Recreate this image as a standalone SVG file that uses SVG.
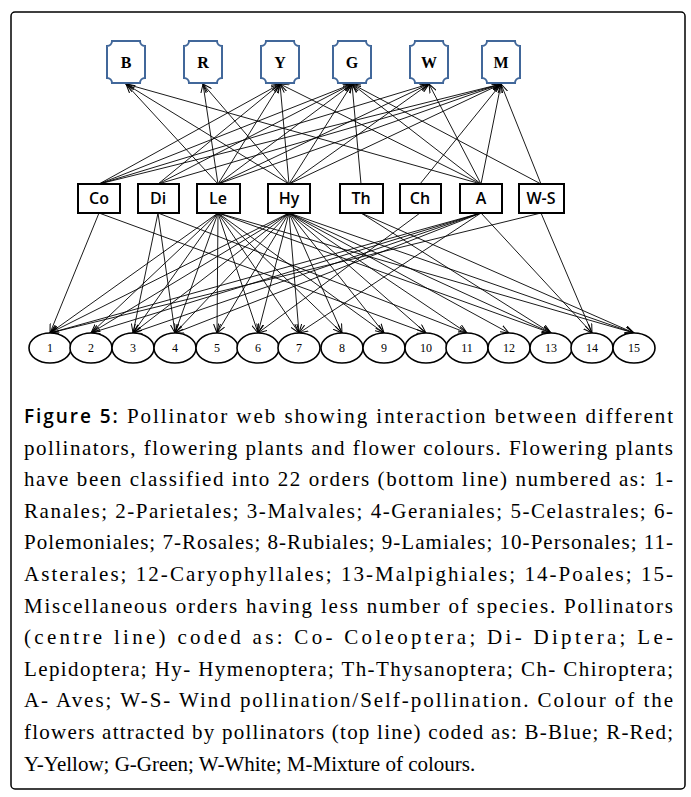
<svg xmlns="http://www.w3.org/2000/svg" width="691" height="797" viewBox="0 0 691 797">
<style>
.col{fill:#fff;stroke:#41679a;stroke-width:2}
.colt{font-family:"Liberation Serif",serif;font-weight:bold;font-size:16px;text-anchor:middle}
.pol{fill:#fff;stroke:#000;stroke-width:2}
.polt{font-family:"Open Sans",sans-serif;font-weight:600;font-size:16px;text-anchor:middle}
.pl{fill:#fff;stroke:#000;stroke-width:1.6}
.plt{font-family:"Liberation Serif",serif;font-size:12px;text-anchor:middle}
.e line{stroke:#000;stroke-width:0.9;marker-end:url(#ah)}
.cap text{font-family:"Liberation Serif",serif;font-size:21px}
</style>
<defs>
<marker id="ah" markerWidth="10" markerHeight="8" refX="9" refY="4" orient="auto" markerUnits="userSpaceOnUse">
<path d="M0,0.5 L9,4 L0,7.5" fill="none" stroke="#000" stroke-width="1"/>
</marker>
</defs>
<rect x="11" y="12" width="674" height="777" rx="4" fill="#fff" stroke="#000" stroke-width="1.5"/>
<g id="connectors" class="e">
<line x1="99" y1="184" x2="280" y2="84"/><line x1="99" y1="184" x2="352" y2="84"/><line x1="99" y1="184" x2="429" y2="84"/><line x1="99" y1="184" x2="501" y2="84"/>
<line x1="158" y1="184" x2="280" y2="84"/><line x1="158" y1="184" x2="352" y2="84"/><line x1="158" y1="184" x2="501" y2="84"/>
<line x1="218" y1="184" x2="126" y2="84"/><line x1="218" y1="184" x2="203" y2="84"/><line x1="218" y1="184" x2="280" y2="84"/><line x1="218" y1="184" x2="352" y2="84"/><line x1="218" y1="184" x2="429" y2="84"/><line x1="218" y1="184" x2="501" y2="84"/>
<line x1="289" y1="184" x2="126" y2="84"/><line x1="289" y1="184" x2="203" y2="84"/><line x1="289" y1="184" x2="280" y2="84"/><line x1="289" y1="184" x2="352" y2="84"/><line x1="289" y1="184" x2="429" y2="84"/><line x1="289" y1="184" x2="501" y2="84"/>
<line x1="361" y1="184" x2="352" y2="84"/>
<line x1="420" y1="184" x2="501" y2="84"/>
<line x1="481" y1="184" x2="126" y2="84"/><line x1="481" y1="184" x2="280" y2="84"/><line x1="481" y1="184" x2="352" y2="84"/><line x1="481" y1="184" x2="429" y2="84"/><line x1="481" y1="184" x2="501" y2="84"/>
<line x1="541" y1="184" x2="352" y2="84"/><line x1="541" y1="184" x2="501" y2="84"/>
<line x1="99" y1="213" x2="50" y2="333"/><line x1="99" y1="213" x2="426" y2="333"/>
<line x1="158" y1="213" x2="133" y2="333"/><line x1="158" y1="213" x2="175" y2="333"/><line x1="158" y1="213" x2="467" y2="333"/>
<line x1="218" y1="213" x2="50" y2="333"/><line x1="218" y1="213" x2="91" y2="333"/><line x1="218" y1="213" x2="133" y2="333"/><line x1="218" y1="213" x2="175" y2="333"/><line x1="218" y1="213" x2="217" y2="333"/><line x1="218" y1="213" x2="258" y2="333"/><line x1="218" y1="213" x2="299" y2="333"/><line x1="218" y1="213" x2="342" y2="333"/><line x1="218" y1="213" x2="384" y2="333"/><line x1="218" y1="213" x2="551" y2="333"/><line x1="218" y1="213" x2="634" y2="333"/>
<line x1="289" y1="213" x2="50" y2="333"/><line x1="289" y1="213" x2="91" y2="333"/><line x1="289" y1="213" x2="133" y2="333"/><line x1="289" y1="213" x2="175" y2="333"/><line x1="289" y1="213" x2="217" y2="333"/><line x1="289" y1="213" x2="258" y2="333"/><line x1="289" y1="213" x2="299" y2="333"/><line x1="289" y1="213" x2="342" y2="333"/><line x1="289" y1="213" x2="384" y2="333"/><line x1="289" y1="213" x2="426" y2="333"/><line x1="289" y1="213" x2="467" y2="333"/><line x1="289" y1="213" x2="509" y2="333"/><line x1="289" y1="213" x2="551" y2="333"/><line x1="289" y1="213" x2="634" y2="333"/>
<line x1="361" y1="213" x2="551" y2="333"/><line x1="361" y1="213" x2="634" y2="333"/>
<line x1="420" y1="213" x2="258" y2="333"/>
<line x1="481" y1="213" x2="50" y2="333"/><line x1="481" y1="213" x2="91" y2="333"/><line x1="481" y1="213" x2="133" y2="333"/><line x1="481" y1="213" x2="175" y2="333"/><line x1="481" y1="213" x2="299" y2="333"/><line x1="481" y1="213" x2="592" y2="333"/>
<line x1="541" y1="213" x2="50" y2="333"/><line x1="541" y1="213" x2="592" y2="333"/>
</g>
<g id="B"><path class="col" d="M112,41 H140 A5,5 0 0 0 145,46 V78 A5,5 0 0 0 140,83 H112 A5,5 0 0 0 107,78 V46 A5,5 0 0 0 112,41 Z"/><text class="colt" x="126" y="68">B</text></g>
<g id="R"><path class="col" d="M189,41 H217 A5,5 0 0 0 222,46 V78 A5,5 0 0 0 217,83 H189 A5,5 0 0 0 184,78 V46 A5,5 0 0 0 189,41 Z"/><text class="colt" x="203" y="68">R</text></g>
<g id="Y"><path class="col" d="M266,41 H294 A5,5 0 0 0 299,46 V78 A5,5 0 0 0 294,83 H266 A5,5 0 0 0 261,78 V46 A5,5 0 0 0 266,41 Z"/><text class="colt" x="280" y="68">Y</text></g>
<g id="G"><path class="col" d="M338,41 H366 A5,5 0 0 0 371,46 V78 A5,5 0 0 0 366,83 H338 A5,5 0 0 0 333,78 V46 A5,5 0 0 0 338,41 Z"/><text class="colt" x="352" y="68">G</text></g>
<g id="W"><path class="col" d="M415,41 H443 A5,5 0 0 0 448,46 V78 A5,5 0 0 0 443,83 H415 A5,5 0 0 0 410,78 V46 A5,5 0 0 0 415,41 Z"/><text class="colt" x="429" y="68">W</text></g>
<g id="M"><path class="col" d="M487,41 H515 A5,5 0 0 0 520,46 V78 A5,5 0 0 0 515,83 H487 A5,5 0 0 0 482,78 V46 A5,5 0 0 0 487,41 Z"/><text class="colt" x="501" y="68">M</text></g>
<g id="Co"><rect class="pol" x="78" y="184" width="42" height="29"/><text class="polt" x="99" y="204">Co</text></g>
<g id="Di"><rect class="pol" x="138" y="184" width="41" height="29"/><text class="polt" x="158" y="204">Di</text></g>
<g id="Le"><rect class="pol" x="197" y="184" width="43" height="29"/><text class="polt" x="218" y="204">Le</text></g>
<g id="Hy"><rect class="pol" x="268" y="184" width="42" height="29"/><text class="polt" x="289" y="204">Hy</text></g>
<g id="Th"><rect class="pol" x="340" y="184" width="43" height="29"/><text class="polt" x="361" y="204">Th</text></g>
<g id="Ch"><rect class="pol" x="400" y="184" width="41" height="29"/><text class="polt" x="420" y="204">Ch</text></g>
<g id="A"><rect class="pol" x="460" y="184" width="42" height="29"/><text class="polt" x="481" y="204">A</text></g>
<g id="W-S"><rect class="pol" x="519" y="184" width="45" height="29"/><text class="polt" x="541" y="204">W-S</text></g>
<g id="p1"><ellipse class="pl" cx="50" cy="348" rx="21" ry="15"/><text class="plt" x="50" y="352">1</text></g>
<g id="p2"><ellipse class="pl" cx="91" cy="348" rx="21" ry="15"/><text class="plt" x="91" y="352">2</text></g>
<g id="p3"><ellipse class="pl" cx="133" cy="348" rx="21" ry="15"/><text class="plt" x="133" y="352">3</text></g>
<g id="p4"><ellipse class="pl" cx="175" cy="348" rx="21" ry="15"/><text class="plt" x="175" y="352">4</text></g>
<g id="p5"><ellipse class="pl" cx="217" cy="348" rx="21" ry="15"/><text class="plt" x="217" y="352">5</text></g>
<g id="p6"><ellipse class="pl" cx="258" cy="348" rx="21" ry="15"/><text class="plt" x="258" y="352">6</text></g>
<g id="p7"><ellipse class="pl" cx="299" cy="348" rx="21" ry="15"/><text class="plt" x="299" y="352">7</text></g>
<g id="p8"><ellipse class="pl" cx="342" cy="348" rx="21" ry="15"/><text class="plt" x="342" y="352">8</text></g>
<g id="p9"><ellipse class="pl" cx="384" cy="348" rx="21" ry="15"/><text class="plt" x="384" y="352">9</text></g>
<g id="p10"><ellipse class="pl" cx="426" cy="348" rx="21" ry="15"/><text class="plt" x="426" y="352">10</text></g>
<g id="p11"><ellipse class="pl" cx="467" cy="348" rx="21" ry="15"/><text class="plt" x="467" y="352">11</text></g>
<g id="p12"><ellipse class="pl" cx="509" cy="348" rx="21" ry="15"/><text class="plt" x="509" y="352">12</text></g>
<g id="p13"><ellipse class="pl" cx="551" cy="348" rx="21" ry="15"/><text class="plt" x="551" y="352">13</text></g>
<g id="p14"><ellipse class="pl" cx="592" cy="348" rx="21" ry="15"/><text class="plt" x="592" y="352">14</text></g>
<g id="p15"><ellipse class="pl" cx="634" cy="348" rx="21" ry="15"/><text class="plt" x="634" y="352">15</text></g>
<g id="caption" class="cap">
<text x="24" y="423" textLength="649" lengthAdjust="spacing"><tspan font-family="Open Sans, sans-serif" font-weight="600" font-size="19">Figure 5:</tspan> Pollinator web showing interaction between different</text>
<text x="24" y="455" textLength="649" lengthAdjust="spacing">pollinators, flowering plants and flower colours. Flowering plants</text>
<text x="24" y="486" textLength="649" lengthAdjust="spacing">have been classified into 22 orders (bottom line) numbered as: 1-</text>
<text x="24" y="518" textLength="649" lengthAdjust="spacing">Ranales; 2-Parietales; 3-Malvales; 4-Geraniales; 5-Celastrales; 6-</text>
<text x="24" y="549" textLength="649" lengthAdjust="spacing">Polemoniales; 7-Rosales; 8-Rubiales; 9-Lamiales; 10-Personales; 11-</text>
<text x="24" y="581" textLength="649" lengthAdjust="spacing">Asterales; 12-Caryophyllales; 13-Malpighiales; 14-Poales; 15-</text>
<text x="24" y="613" textLength="649" lengthAdjust="spacing">Miscellaneous orders having less number of species. Pollinators</text>
<text x="24" y="644" textLength="649" lengthAdjust="spacing">(centre line) coded as: Co- Coleoptera; Di- Diptera; Le-</text>
<text x="24" y="676" textLength="649" lengthAdjust="spacing">Lepidoptera; Hy- Hymenoptera; Th-Thysanoptera; Ch- Chiroptera;</text>
<text x="24" y="707" textLength="649" lengthAdjust="spacing">A- Aves; W-S- Wind pollination/Self-pollination. Colour of the</text>
<text x="24" y="739" textLength="649" lengthAdjust="spacing">flowers attracted by pollinators (top line) coded as: B-Blue; R-Red;</text>
<text x="24" y="771">Y-Yellow; G-Green; W-White; M-Mixture of colours.</text>
</g>
</svg>
